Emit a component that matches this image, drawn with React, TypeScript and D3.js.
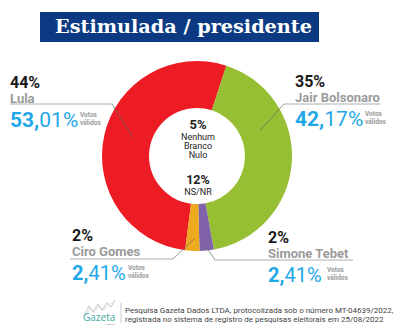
import React from "react";
import * as d3 from "d3";

const candidates = ["Lula", "Jair Bolsonaro", "Simone Tebet", "Ciro Gomes"];
const validVotes = [53.01, 42.17, 2.41, 2.41];
const totalVotes = ["44%", "35%", "2%", "2%"];
const validLabels = ["53,01%", "42,17%", "2,41%", "2,41%"];
const colors = ["#ED1C24", "#97BF34", "#7F62A8", "#EDAA1E"];
const centerTop = ["5%", "Nenhum", "Branco", "Nulo"];
const centerBottom = ["12%", "NS/NR"];
const footerLines = [
  "Pesquisa Gazeta Dados LTDA, protocolizada sob o número MT-04639/2022,",
  "registrada no sistema de registro de pesquisas eleitorais em 25/08/2022",
];

const W = 400, H = 327;
const cx = 197, cy = 156, R = 95, r0 = 48;
const deg = Math.PI / 180;

const labelLayout = [
  { x: 10, y: 88, lineX0: 10, lineX1: 112, lineY: 104, ang: 286.5, rad: 67, bigSize: 21, vx: 80 },
  { x: 295, y: 87, lineX0: 284, lineX1: 380, lineY: 104, ang: 68, rad: 68, bigSize: 21, vx: 365 },
  { x: 268, y: 243, lineX0: 215, lineX1: 353, lineY: 260, ang: 176, rad: 86, bigSize: 20, vx: 327 },
  { x: 72, y: 241, lineX0: 70, lineX1: 173, lineY: 259, ang: 182, rad: 83, bigSize: 20, vx: 128 },
];

export default function App() {
  const startAngle = (18 - 0.5301 * 360) * deg;
  const pie = d3
    .pie<number>()
    .sort(null)
    .startAngle(startAngle)
    .endAngle(startAngle + 2 * Math.PI);
  const arcs = pie(validVotes);
  const arc = d3.arc<d3.PieArcDatum<number>>().innerRadius(r0).outerRadius(R);

  const font = "Roboto, sans-serif";

  return (
    <svg
      width={W}
      height={H}
      style={{ position: "absolute", left: 0, top: 0, background: "#fff" }}
      fontFamily={font}
    >
      <rect x={40} y={12} width={279} height={30} fill="#0B3A82" />
      <text
        x={55}
        y={33}
        fill="#fff"
        fontFamily="'DejaVu Serif', serif"
        fontWeight="bold"
        fontSize={18}
        textLength={257}
        lengthAdjust="spacingAndGlyphs"
      >
        Estimulada / presidente
      </text>

      <g transform={`translate(${cx},${cy})`}>
        {arcs.map((a, i) => (
          <path key={i} d={arc(a) || ""} fill={colors[i]} />
        ))}
      </g>

      <g textAnchor="middle" fill="#222">
        <text x={cx + 1} y={129} fontWeight="bold" fontSize={13}>{centerTop[0]}</text>
        <text x={cx + 1} y={140} fontSize={9}>{centerTop[1]}</text>
        <text x={cx + 1} y={149} fontSize={9}>{centerTop[2]}</text>
        <text x={cx + 1} y={158} fontSize={9}>{centerTop[3]}</text>
        <text x={cx + 1} y={184} fontWeight="bold" fontSize={12.5}>{centerBottom[0]}</text>
        <text x={cx + 1} y={195} fontSize={9}>{centerBottom[1]}</text>
      </g>

      {candidates.map((name, i) => {
        const L = labelLayout[i];
        const px = cx + L.rad * Math.sin(L.ang * deg);
        const py = cy - L.rad * Math.cos(L.ang * deg);
        const [intPart, decPart] = validLabels[i].split(",");
        const leftSide = L.lineX1 < cx;
        const elbowX = leftSide ? L.lineX1 : L.lineX0;
        return (
          <g key={name}>
            <line x1={L.lineX0} x2={L.lineX1} y1={L.lineY} y2={L.lineY} stroke="#9a9a9a" strokeWidth={0.8} />
            <line x1={elbowX} y1={L.lineY} x2={px} y2={py} stroke="#666" strokeWidth={0.7} />
            <text x={L.x} y={L.y} fontWeight="bold" fontSize={16} fill="#1a1a1a">{totalVotes[i]}</text>
            <text x={L.x} y={L.y + 14.5} fontWeight="bold" fontSize={13} fill="#9b9b9b">{name}</text>
            <text x={L.x} y={L.y + 39} fontSize={L.bigSize} fill="#1FA8E8">
              <tspan fontWeight="bold">{intPart},</tspan>
              <tspan>{decPart}</tspan>
            </text>
            <text x={L.vx} y={L.y + 29} fontWeight="bold" fontSize={6.5} fill="#9b9b9b">Votos</text>
            <text x={L.vx} y={L.y + 37} fontWeight="bold" fontSize={6.5} fill="#9b9b9b">válidos</text>
          </g>
        );
      })}

      <g>
        <path
          d="M84,316 L89,306 L93,312 L98,304 L102,310 L107,303 L111,307 L115,300"
          fill="none"
          stroke="#9aa5a8"
          strokeWidth={0.6}
        />
        <path
          d="M86,316 L90,308 L94,313 L99,306 L103,311 L108,305 L113,302"
          fill="none"
          stroke="#b7c0c2"
          strokeWidth={0.5}
        />
        <text x={83} y={321} fontSize={10} fill="#3FA9A3" fontFamily="'Open Sans', sans-serif">Gazeta</text>
        <text x={107} y={325} fontSize={2.5} fill="#999">DADOS</text>
        <line x1={121} x2={121} y1={303} y2={323} stroke="#aaa" strokeWidth={0.6} />
        {footerLines.map((t, i) => (
          <text key={i} x={125} y={312.5 + i * 9} fontSize={8} fill="#444">{t}</text>
        ))}
      </g>
    </svg>
  );
}
